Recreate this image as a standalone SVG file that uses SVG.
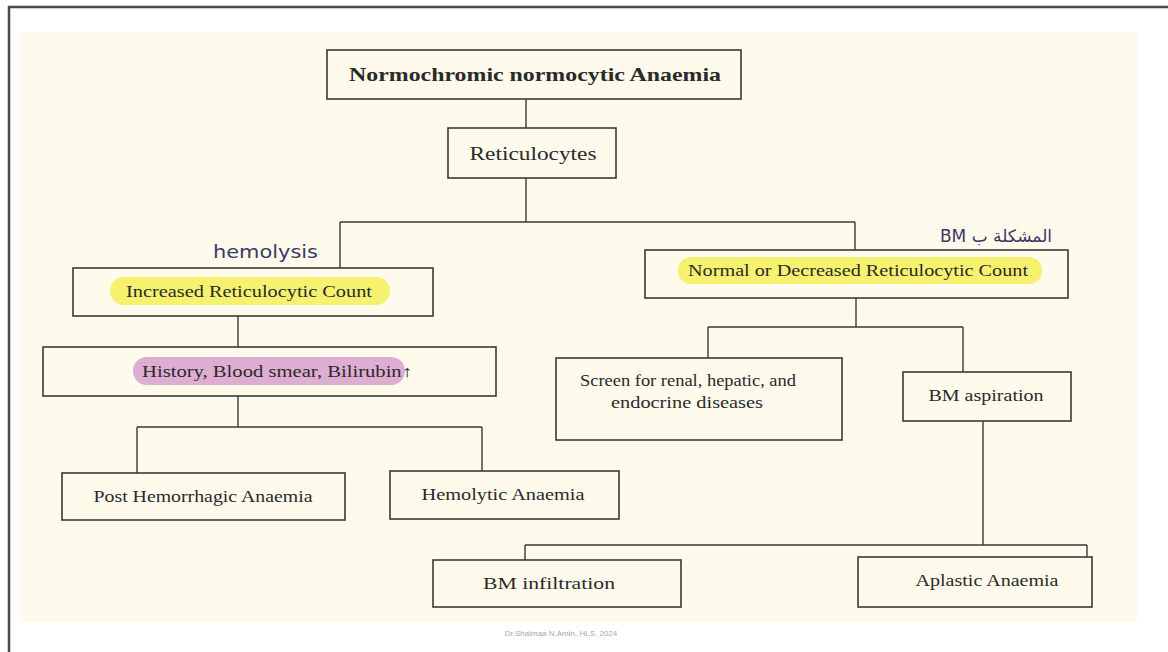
<svg xmlns="http://www.w3.org/2000/svg" width="1168" height="652" viewBox="0 0 1168 652">
<style>
.box{fill:none;stroke:#3a3a3a;stroke-width:1.6}
.ln{fill:none;stroke:#3a3a3a;stroke-width:1.4}
.t{font-family:"Liberation Serif",serif;font-size:16px;fill:#2a2a2a;text-anchor:middle}
.hw{font-family:"DejaVu Sans",sans-serif;fill:#3b3866;font-size:18px}
.hy{fill:#f5f05a;opacity:0.85}
.hp{fill:#d9a4cf;opacity:0.9}
</style>
<rect x="0" y="0" width="1168" height="652" fill="#ffffff"/>
<path d="M9 652 V7 H1168" fill="none" stroke="#4a4a4a" stroke-width="2.5"/>
<rect x="20" y="32" width="1117" height="590" fill="#fefaec"/>
<g id="connectors">
<path class="ln" d="M526 99 V128 M526 178 V222 M340 222 H855 M340 222 V268 M855 222 V250"/>
<path class="ln" d="M238 316 V347 M238 396 V427 M137 427 H482 M137 427 V473 M482 427 V471"/>
<path class="ln" d="M856 298 V327 M708 327 H963 M708 327 V358 M963 327 V372"/>
<path class="ln" d="M983 421 V545 M525 545 H1087 M525 545 V560 M1087 545 V557"/>
</g>
<g id="n-normochromic">
<rect class="box" x="327" y="50" width="414" height="49"/>
<text class="t" x="535" y="81" style="font-weight:bold;font-size:19px" textLength="372" lengthAdjust="spacingAndGlyphs">Normochromic normocytic Anaemia</text>
</g>
<g id="n-reticulocytes">
<rect class="box" x="448" y="128" width="168" height="50"/>
<text class="t" x="533" y="160" style="font-size:19px" textLength="127" lengthAdjust="spacingAndGlyphs">Reticulocytes</text>
</g>
<g id="n-increased">
<rect class="box" x="73" y="268" width="360" height="48"/>
<rect class="hy" x="110" y="277" width="280" height="28" rx="14"/>
<text class="t" x="249" y="297" textLength="246" lengthAdjust="spacingAndGlyphs">Increased Reticulocytic Count</text>
<text class="hw" x="213" y="258" textLength="105" lengthAdjust="spacingAndGlyphs">hemolysis</text>
</g>
<g id="n-normal">
<rect class="box" x="645" y="250" width="423" height="48"/>
<rect class="hy" x="678" y="257" width="364" height="27" rx="13"/>
<text class="t" x="858" y="276" textLength="340" lengthAdjust="spacingAndGlyphs">Normal or Decreased Reticulocytic Count</text>
<text class="hw" x="996" y="242" direction="rtl" text-anchor="middle" style="font-size:17px">المشكلة ب BM</text>
</g>
<g id="n-history">
<rect class="box" x="43" y="347" width="453" height="49"/>
<rect class="hp" x="133" y="357" width="272" height="28" rx="14"/>
<text class="t" x="277" y="377" textLength="270" lengthAdjust="spacingAndGlyphs">History, Blood smear, Bilirubin↑</text>
</g>
<g id="n-posthem">
<rect class="box" x="62" y="473" width="283" height="47"/>
<text class="t" x="203" y="502" textLength="219" lengthAdjust="spacingAndGlyphs">Post Hemorrhagic Anaemia</text>
</g>
<g id="n-hemolytic">
<rect class="box" x="390" y="471" width="229" height="48"/>
<text class="t" x="503" y="500" textLength="163" lengthAdjust="spacingAndGlyphs">Hemolytic Anaemia</text>
</g>
<g id="n-screen">
<rect class="box" x="556" y="358" width="286" height="82"/>
<text class="t" x="688" y="386" textLength="216" lengthAdjust="spacingAndGlyphs">Screen for renal, hepatic, and</text>
<text class="t" x="687" y="408" textLength="152" lengthAdjust="spacingAndGlyphs">endocrine diseases</text>
</g>
<g id="n-bmasp">
<rect class="box" x="903" y="372" width="168" height="49"/>
<text class="t" x="986" y="401" textLength="115" lengthAdjust="spacingAndGlyphs">BM aspiration</text>
</g>
<g id="n-bminf">
<rect class="box" x="433" y="560" width="248" height="47"/>
<text class="t" x="549" y="589" textLength="132" lengthAdjust="spacingAndGlyphs">BM infiltration</text>
</g>
<g id="n-aplastic">
<rect class="box" x="858" y="557" width="234" height="50"/>
<text class="t" x="987" y="586" textLength="143" lengthAdjust="spacingAndGlyphs">Aplastic Anaemia</text>
</g>
<text x="561" y="636" style="font-family:'Liberation Sans',sans-serif;font-size:8px;fill:#a8a8a8;text-anchor:middle">Dr.Shaimaa N.Amin, HLS, 2024</text>
</svg>
